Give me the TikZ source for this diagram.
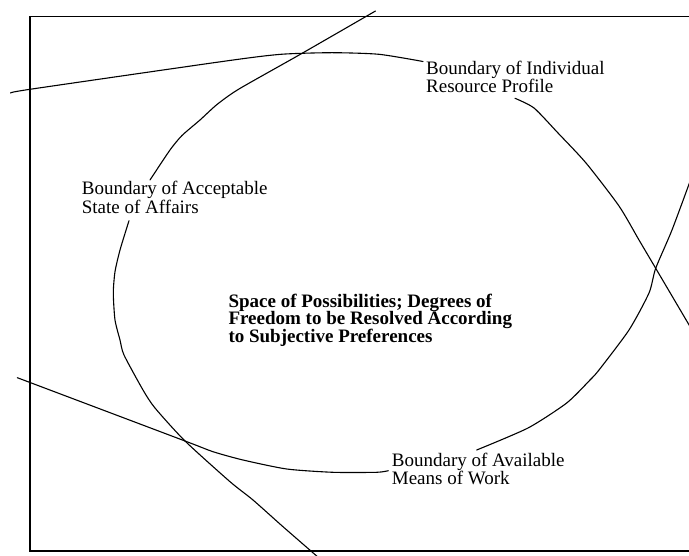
\documentclass[tikz,border=0pt]{standalone}
\usepackage{fontspec}
\setmainfont{Liberation Serif}
\begin{document}
\begin{tikzpicture}[x=1pt,y=-1pt,
  bound/.style={line width=1.1pt, line join=round, line cap=round},
  frame/.style={line width=1.4pt},
  lbl/.style={inner sep=0pt, anchor=base west, font=\fontsize{19}{18.3}\selectfont},
  blbl/.style={inner sep=0pt, anchor=base west, font=\fontsize{19}{17.7}\selectfont\bfseries}]
\useasboundingbox (0,0) rectangle (689,556);
\clip (0,0) rectangle (689,556);
% frame
\draw[frame] (695,16.7) -- (30,16.7) -- (30,551) -- (695,551);
% labels
\node[lbl] (res) at (426,74.5) {\vtop{\hbox{Boundary of Individual}\hbox{Resource Profile}}};
\node[lbl] (acc) at (81.7,195) {\vtop{\hbox{Boundary of Acceptable}\hbox{State of Affairs}}};
\node[lbl] (avl) at (391.7,466) {\vtop{\hbox{Boundary of Available}\hbox{Means of Work}}};
\node[blbl] (space) at (228.3,307.3) {\vtop{\hbox{Space of Possibilities; Degrees of}\hbox{Freedom to be Resolved According}\hbox{to Subjective Preferences}}};
% end points of the boundaries
\coordinate (resA) at (11,93);
\coordinate (resB) at (423,61.5);
\coordinate (resC) at (515,98.3);
\coordinate (resD) at (695,335);
\coordinate (accA) at (375.5,11);
\coordinate (accB) at (150,180);
\coordinate (accC) at (129,220.7);
\coordinate (accD) at (319,558);
\coordinate (avlA) at (17.3,377.7);
\coordinate (avlB) at (388.3,470.7);
\coordinate (avlC) at (476.7,450);
\coordinate (avlD) at (692,176);
% boundary of individual resource profile
\draw[bound] plot[smooth, tension=0.4] coordinates {(resA) (30,89.3) (226,61) (281,54.3) (332,52.7) (379,54.3) (resB)};
\draw[bound] plot[smooth, tension=0.4] coordinates {(resC) (534,108) (558,133) (586,163) (619,206) (639,240) (655.7,268.3) (resD)};
% boundary of acceptable state of affairs
\draw[bound] plot[smooth, tension=0.4] coordinates {(accA) (300,54.5) (239,89) (217,104.5) (200,120) (182,135.5) (170,150) (accB)};
\draw[bound] plot[smooth, tension=0.4] coordinates {(accC) (120,250) (115,271.7) (113.3,293) (115,320) (120,340) (124,355) (143,390) (155,408) (185,441) (230,481.7) (253,500) (283,526.7) (accD)};
% boundary of available means of work
\draw[bound] plot[smooth, tension=0.4] coordinates {(avlA) (185,441) (213,451.7) (243,460) (286.7,469) (333,472.3) (376.7,472.3) (avlB)};
\draw[bound] plot[smooth, tension=0.4] coordinates {(avlC) (528,428) (566.7,403) (590,380) (599,370) (629,330) (649,293) (655.7,268.3) (672,230) (avlD)};
\end{tikzpicture}
\end{document}
